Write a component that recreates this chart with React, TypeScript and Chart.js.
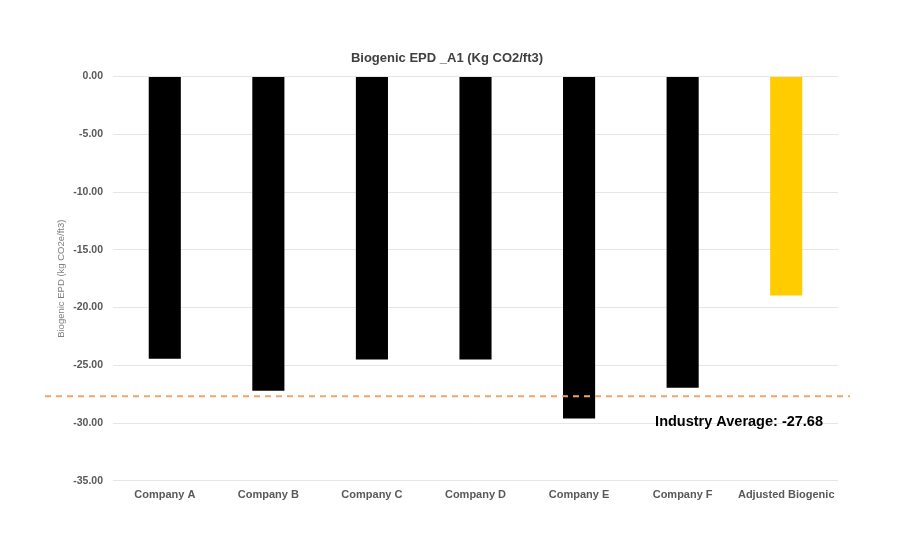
import React, { useEffect, useRef } from "react";
import { Chart, registerables } from "chart.js";

Chart.register(...registerables);

const categories = ["Company A", "Company B", "Company C", "Company D", "Company E", "Company F", "Adjusted Biogenic"];
const values = [-24.43, -27.2, -24.5, -24.5, -29.6, -26.95, -18.95];
const barColors = ["#000000", "#000000", "#000000", "#000000", "#000000", "#000000", "#FFCC00"];
const industryAverage = -27.68;
const industryLabel = "Industry Average: -27.68";
const chartTitle = "Biogenic EPD _A1 (Kg CO2/ft3)";
const yAxisTitle = "Biogenic EPD (kg CO2e/ft3)";

const avgLinePlugin = {
  id: "avgLine",
  afterDatasetsDraw(chart: any) {
    const { ctx, chartArea, scales } = chart;
    const y = scales.y.getPixelForValue(industryAverage);
    ctx.save();
    ctx.strokeStyle = "#F4A36C";
    ctx.lineWidth = 2;
    ctx.setLineDash([6, 5]);
    ctx.beginPath();
    ctx.moveTo(chartArea.left - 68, y);
    ctx.lineTo(chartArea.right + 12, y);
    ctx.stroke();
    ctx.setLineDash([]);
    ctx.fillStyle = "#000000";
    ctx.font = "bold 14.5px 'Liberation Sans', Arial, sans-serif";
    ctx.textAlign = "right";
    ctx.textBaseline = "middle";
    ctx.fillText(industryLabel, chartArea.right - 15, y + 26);
    ctx.restore();
  },
};

export default function App() {
  const ref = useRef<HTMLCanvasElement>(null);
  useEffect(() => {
    document.body.style.margin = "0";
    const chart = new Chart(ref.current!, {
      type: "bar",
      data: {
        labels: categories,
        datasets: [
          {
            data: values,
            backgroundColor: barColors,
            categoryPercentage: 1,
            barPercentage: 0.31,
          },
        ],
      },
      options: {
        animation: false,
        responsive: false,
        maintainAspectRatio: false,
        layout: { padding: { left: 56, right: 62, top: 51, bottom: 40 } },
        plugins: {
          legend: { display: false },
          tooltip: { enabled: false },
          title: {
            display: true,
            text: chartTitle,
            color: "#404040",
            font: { family: "'Liberation Sans', Arial, sans-serif", size: 13, weight: "bold" },
            padding: { top: 0, bottom: 10 },
          },
        },
        scales: {
          x: {
            grid: { display: false, drawTicks: false },
            border: { display: false },
            ticks: {
              color: "#595959",
              padding: 8,
              maxRotation: 0,
              font: { family: "'Liberation Sans', Arial, sans-serif", size: 11, weight: "bold" },
            },
          },
          y: {
            min: -35,
            max: 0,
            afterFit: (s: any) => {
              s.width = 57;
            },
            grid: { color: "#E6E6E6", drawTicks: false },
            border: { display: false },
            title: {
              display: true,
              text: yAxisTitle,
              color: "#7F7F7F",
              font: { family: "'Liberation Sans', Arial, sans-serif", size: 9.5 },
              padding: 0,
            },
            ticks: {
              stepSize: 5,
              color: "#595959",
              padding: 10,
              font: { family: "'Liberation Sans', Arial, sans-serif", size: 10.5, weight: "bold" },
              callback: (v: any) => Number(v).toFixed(2),
            },
          },
        },
      },
      plugins: [avgLinePlugin],
    });
    return () => chart.destroy();
  }, []);
  return <canvas ref={ref} width={900} height={550} style={{ display: "block" }} />;
}
